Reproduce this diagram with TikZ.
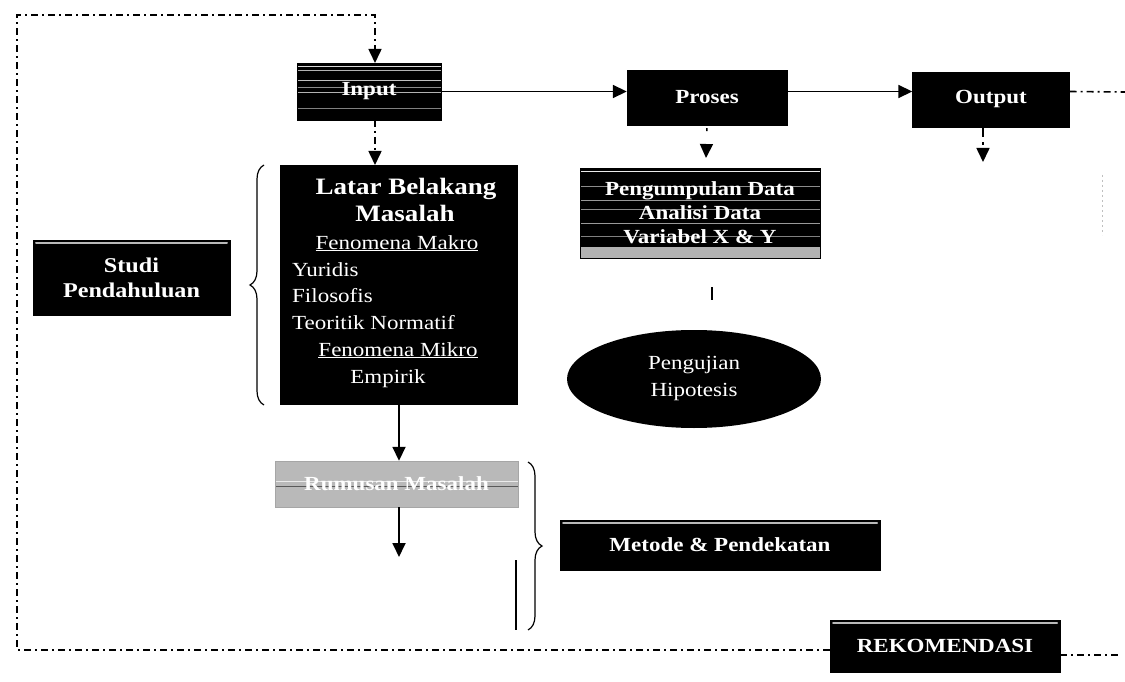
\documentclass[tikz,border=0pt]{standalone}
\usepackage{fontspec}
\setmainfont{Liberation Serif}[FakeStretch=1.15]
\usetikzlibrary{arrows.meta,calc,decorations.pathreplacing,shapes.geometric}
\begin{document}
\begin{tikzpicture}[x=1pt,y=-1pt,
  txt/.style={font=\fontsize{20}{27}\selectfont},
  btxt/.style={font=\fontsize{20}{27}\selectfont\bfseries},
  htxt/.style={font=\fontsize{23.5}{27}\selectfont\bfseries},
  blk/.style={fill=black,draw=black,text=white,inner sep=0pt,align=center,btxt},
  stripes/.style={path picture={
     \foreach \k/\c in {#1}{
       \draw[white!\c!black,line width=0.7pt]
        ($(path picture bounding box.north west)!\k!(path picture bounding box.south west)$) --
        ($(path picture bounding box.north east)!\k!(path picture bounding box.south east)$);}}},
  bevel/.style={path picture={
       \draw[gray!55,line width=2pt,line cap=round]
        ($(path picture bounding box.north west)+(3,3)$) -- ($(path picture bounding box.north east)+(-3,3)$);}},
  bottomband/.style={path picture={
       \fill[gray!60]
        ($(path picture bounding box.south west)+(0,-11)$) rectangle (path picture bounding box.south east);
       \foreach \k/\c in {#1}{
       \draw[white!\c!black,line width=0.7pt]
        ($(path picture bounding box.north west)!\k!(path picture bounding box.south west)$) --
        ($(path picture bounding box.north east)!\k!(path picture bounding box.south east)$);}}},
  dd/.style={line width=1.6pt,dash pattern=on 7pt off 4pt on 2pt off 4pt},
  tip/.style={-{Triangle[length=14pt,width=13pt]}},
  solid arrow/.style={line width=1.8pt,tip},
  brace/.style={decorate,decoration={brace,amplitude=14pt},line width=1.2pt}
]
\useasboundingbox[fill=white] (0,0) rectangle (1125,682);

% ---- top row ----
\node[blk,minimum width=144pt,minimum height=57pt,
      stripes={0.06/85,0.13/70,0.30/75,0.42/55,0.52/70,0.80/50}] (inp) at (369,91.5) {Input};
\node[blk,minimum width=160pt,minimum height=55pt] (pro) at (707,97.5) {Proses};
\node[blk,minimum width=157pt,minimum height=55pt] (out) at (991,99.5) {Output};

% ---- middle ----
\node[blk,minimum width=240pt,minimum height=90pt,
      bottomband={0.04/92,0.20/55,0.36/60,0.46/55,0.62/60,0.76/50}] (pg) at (700,213)
      {Pengumpulan Data\\[-3pt]Analisi Data\\[-3pt]Variabel X \& Y};
\node[ellipse,fill=black,text=white,minimum width=254pt,minimum height=98pt,inner sep=0pt,
      txt,align=center] (ell) at (694,379) {Pengujian\\Hipotesis};

\node[blk,bevel,minimum width=197pt,minimum height=75pt,font=\fontsize{21}{27}\selectfont\bfseries] (std) at (131.5,277.5) {Studi\\[-2pt]Pendahuluan};
\node[fill=black,minimum width=238pt,minimum height=240pt,inner sep=0pt] (lat) at (399,285) {};
\node[htxt,text=white,anchor=base] (l1) at (406,194) {Latar Belakang};
\node[htxt,text=white,anchor=base] (l2) at (405,222) {Masalah};
\node[txt,text=white,anchor=base] (l3) at (397,249) {\underline{Fenomena Makro}};
\node[txt,text=white,anchor=base west,inner xsep=0pt] (l4) at (292,276) {Yuridis};
\node[txt,text=white,anchor=base west,inner xsep=0pt] (l5) at (292,302) {Filosofis};
\node[txt,text=white,anchor=base west,inner xsep=0pt] (l6) at (292,329) {Teoritik Normatif};
\node[txt,text=white,anchor=base] (l7) at (398,356) {\underline{Fenomena Mikro}};
\node[txt,text=white,anchor=base] (l8) at (388,383) {Empirik};

\node[fill=gray!55,draw=gray!70,text=white,btxt,minimum width=243pt,minimum height=46pt,inner sep=0pt,
      stripes={0.45/92,0.55/35}] (rum) at (396.5,484) {Rumusan Masalah};

\node[blk,bevel,minimum width=320pt,minimum height=50pt] (met) at (720,545) {Metode \& Pendekatan};
\node[blk,bevel,minimum width=230pt,minimum height=52pt] (rek) at (945,646) {REKOMENDASI};

% ---- braces ----
\coordinate (lbb) at (264,405);
\coordinate (lbt) at (264,165);
\draw[brace] (lbb) -- (lbt);
\coordinate (rbt) at (528,462);
\coordinate (rbb) at (528,630);
\draw[brace] (rbt) -- (rbb);
\coordinate (vl1) at (516,560);
\coordinate (vl2) at (516,630);
\draw[line width=1.2pt] (vl1) -- (vl2);

% ---- connectors ----
\draw[solid arrow] (inp.east) -- (inp.east -| pro.west);
\draw[solid arrow] (inp.east -| pro.east) -- (inp.east -| out.west);
\coordinate (outr) at (1125,92);
\draw[dd] (inp.east -| out.east) -- (outr);

\coordinate (ftl) at (17,15);
\coordinate (fbl) at (17,650);
\draw[dd,tip] (rek.west |- fbl) -- (fbl) -- (ftl) -- (ftl -| 375,0) -- (375,63);
\coordinate (fr) at (1120,655);
\draw[dd] (rek.east |- fr) -- (fr);

\draw[dd,tip] (375,120) -- (375,165);
\coordinate (pdn) at (706,158);
\draw[dd,tip,dash pattern=on 0pt off 3pt on 3pt off 30pt] (pro.south) -- (pdn);
\coordinate (odn) at (983,162);
\draw[dd,tip,dash pattern=on 10pt off 5pt on 3pt off 30pt] (out.south -| odn) -- (odn);
\draw[line width=1.8pt,dash pattern=on 0pt off 29pt on 13pt off 100pt] (pg.south -| 712,0) -- (ell.north -| 712,0);

\draw[solid arrow] (lat.south) -- (lat.south |- rum.north);
\coordinate (rend) at (399,557);
\draw[solid arrow] (rum.south -| rend) -- (rend);

\coordinate (f1) at (1102,175);
\coordinate (f2) at (1102,235);
\draw[gray!50,line width=0.8pt,dash pattern=on 2pt off 3pt] (f1) -- (f2);
\end{tikzpicture}
\end{document}
